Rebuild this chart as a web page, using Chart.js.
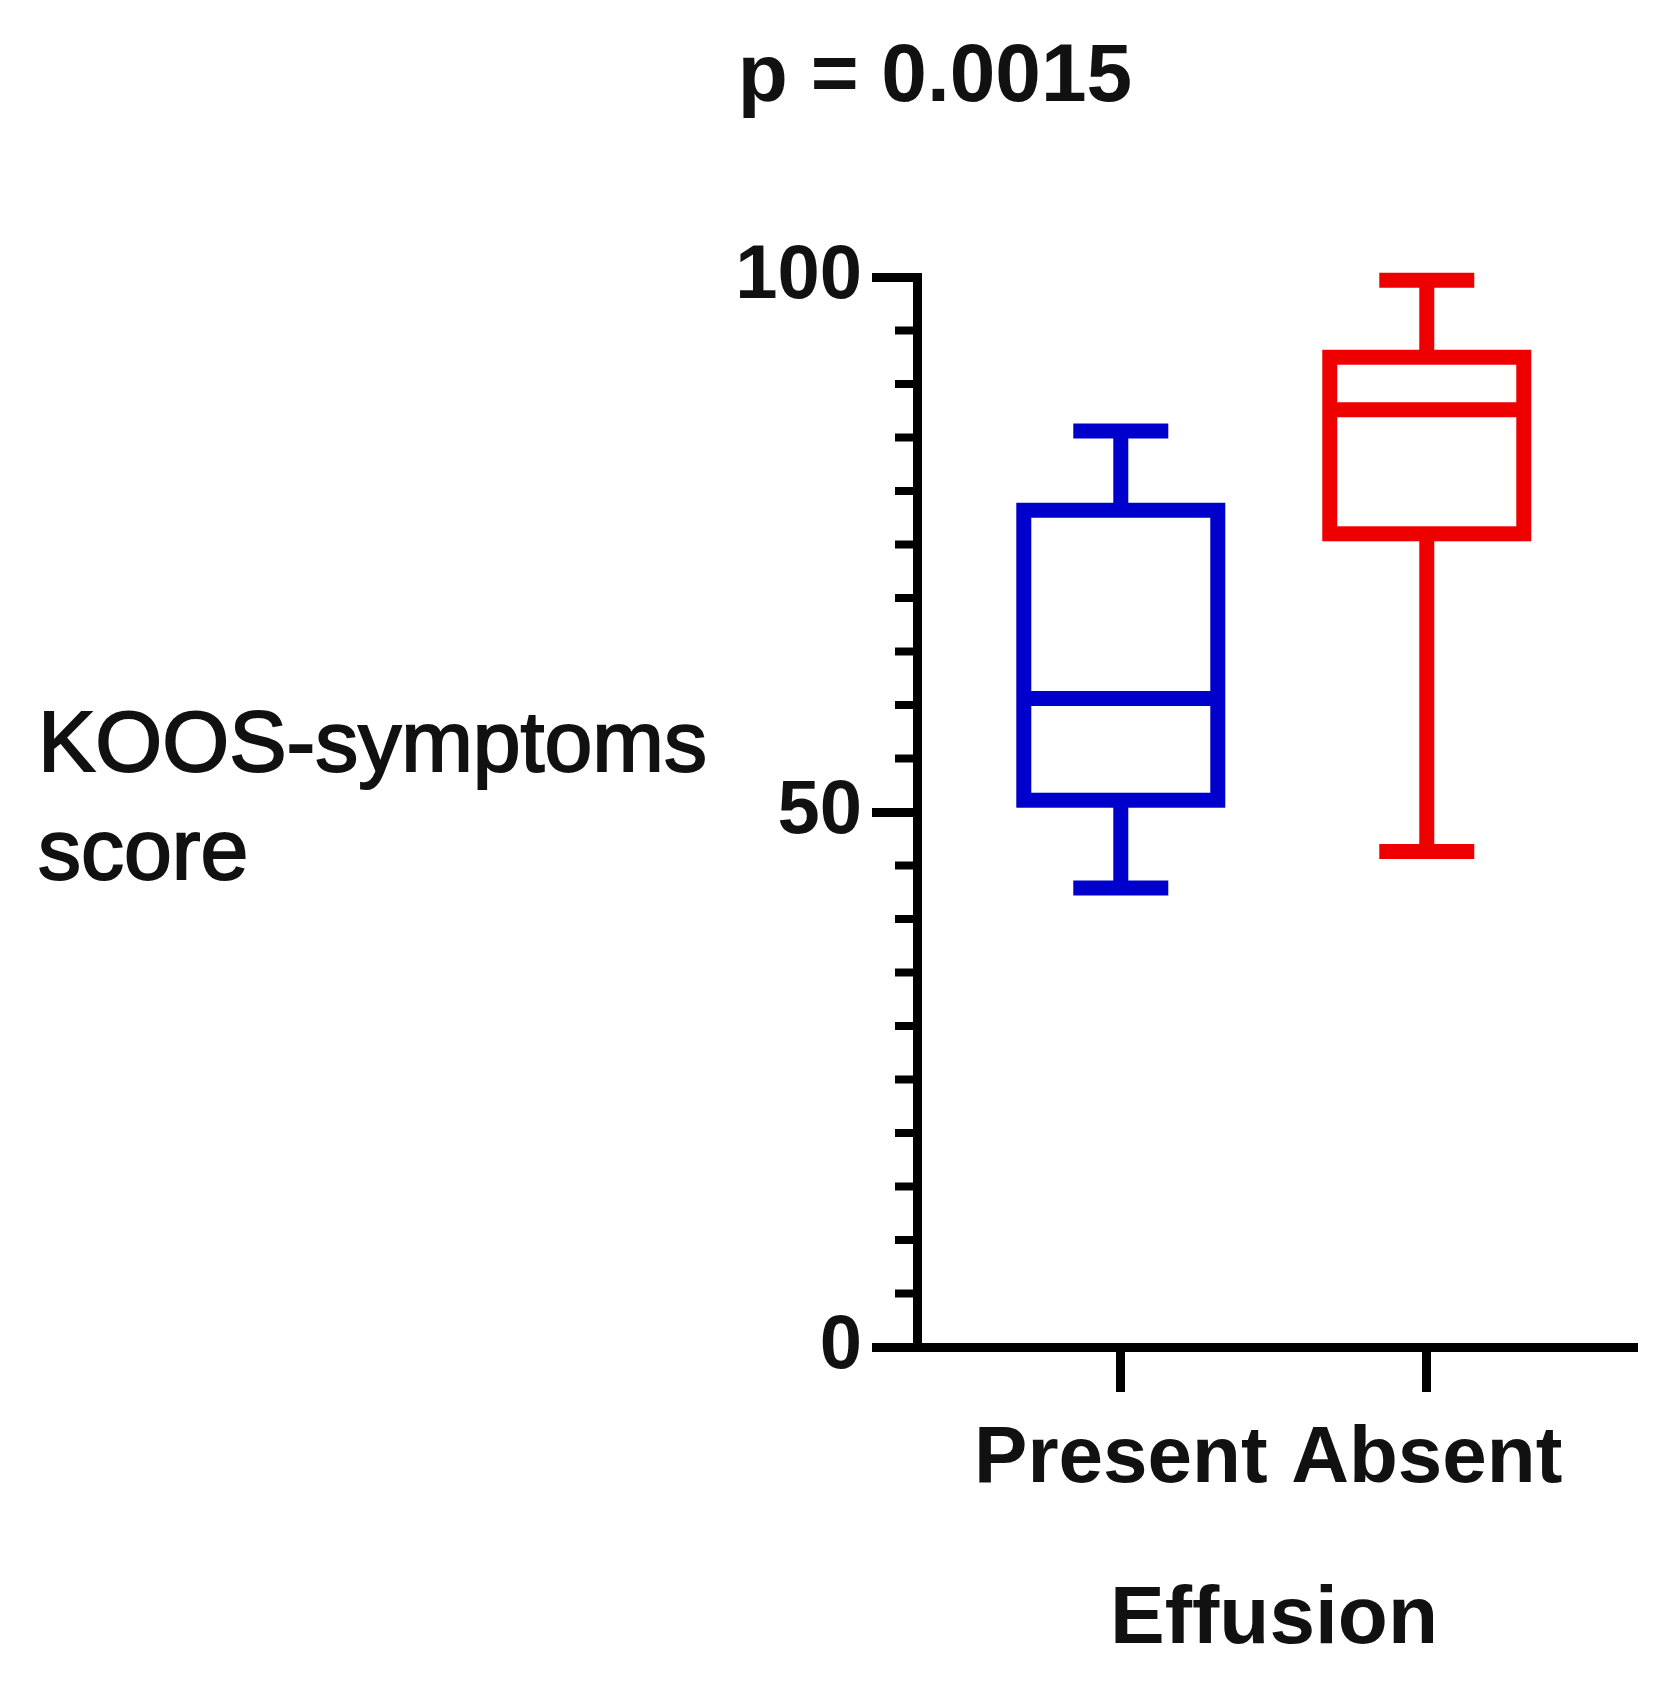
<!DOCTYPE html>
<html><head><meta charset="utf-8">
<script src="https://cdn.jsdelivr.net/npm/chart.js@4"></script>
<style>html,body{margin:0;padding:0;background:#fff}#c{display:block}</style>
</head><body>
<div style="width:1667px;height:1685px"><canvas id="c"></canvas></div>
<script>
const categories = ["Present", "Absent"];
const colors = ["#0000cc", "#ee0000"];
const whiskerMin = [42.9, 46.3];
const q1 = [51.1, 76.0];
const median = [60.6, 87.6];
const q3 = [78.2, 92.5];
const whiskerMax = [85.6, 99.7];
const yTickLabels = [0, 50, 100];

const FONT = "'Liberation Sans', Arial, sans-serif";

const boxPlugin = {
  id: 'boxes',
  afterDatasetsDraw(chart) {
    const ctx = chart.ctx, xs = chart.scales.x, ys = chart.scales.y;
    ctx.save();
    ctx.strokeStyle = '#000'; ctx.lineWidth = 8;
    const x0 = chart.chartArea.left;
    for (let v = 0; v <= 100; v += 5) {
      if (yTickLabels.includes(v)) continue;
      const y = ys.getPixelForValue(v);
      ctx.beginPath(); ctx.moveTo(x0 - 22, y); ctx.lineTo(x0, y); ctx.stroke();
    }
    categories.forEach((c, i) => {
      const cx = xs.getPixelForValue(i + 1);
      const bw = 194, cw = 95;
      const p = v => ys.getPixelForValue(v);
      ctx.strokeStyle = colors[i]; ctx.lineWidth = 15; ctx.lineCap = 'butt';
      ctx.beginPath();
      ctx.moveTo(cx, p(q3[i])); ctx.lineTo(cx, p(whiskerMax[i]));
      ctx.moveTo(cx - cw/2, p(whiskerMax[i])); ctx.lineTo(cx + cw/2, p(whiskerMax[i]));
      ctx.moveTo(cx, p(q1[i])); ctx.lineTo(cx, p(whiskerMin[i]));
      ctx.moveTo(cx - cw/2, p(whiskerMin[i])); ctx.lineTo(cx + cw/2, p(whiskerMin[i]));
      ctx.moveTo(cx - bw/2, p(median[i])); ctx.lineTo(cx + bw/2, p(median[i]));
      ctx.stroke();
      ctx.strokeRect(cx - bw/2, p(q3[i]), bw, p(q1[i]) - p(q3[i]));
    });
    ctx.fillStyle = '#111'; ctx.textBaseline = 'middle';
    ctx.font = 'bold 82px ' + FONT; ctx.textAlign = 'center';
    ctx.fillText('p = 0.0015', 935, 78);
    ctx.fillText('Effusion', 1274, 1620);
    ctx.font = '86px ' + FONT; ctx.textAlign = 'left';
    ctx.lineWidth = 2; ctx.strokeStyle = '#111';
    ctx.fillText('KOOS-symptoms', 38, 747); ctx.strokeText('KOOS-symptoms', 38, 747);
    ctx.fillText('score', 38, 855); ctx.strokeText('score', 38, 855);
    ctx.restore();
  }
};

new Chart(document.getElementById('c'), {
  type: 'scatter',
  data: { datasets: [{ data: categories.map((c, i) => ({ x: i + 1, y: median[i] })), pointRadius: 0 }] },
  options: {
    responsive: true, maintainAspectRatio: false, animation: false,
    layout: { padding: { top: 277, right: 30, left: 0, bottom: 0 } },
    plugins: { legend: { display: false }, tooltip: { enabled: false } },
    scales: {
      x: {
        type: 'linear', min: 0.334, max: 2.687,
        afterBuildTicks: s => { s.ticks = categories.map((c, i) => ({ value: i + 1 })); },
        afterFit: s => { s.height = 338; },
        ticks: { callback: v => categories[v - 1] || '', color: '#111', font: { family: FONT, size: 80, weight: 'bold' }, padding: 20, maxRotation: 0, autoSkip: false },
        grid: { drawOnChartArea: false, tickLength: 45, tickWidth: 9, tickColor: '#000' },
        border: { color: '#000', width: 9 }
      },
      y: {
        min: 0, max: 100,
        afterBuildTicks: s => { s.ticks = yTickLabels.map(v => ({ value: v })); },
        afterFit: s => { s.width = 917; },
        ticks: { color: '#111', font: { family: FONT, size: 76, weight: 'bold' }, padding: 10 },
        grid: { drawOnChartArea: false, tickLength: 45, tickWidth: 9, tickColor: '#000' },
        border: { color: '#000', width: 9 }
      }
    }
  },
  plugins: [boxPlugin]
});
</script>
</body></html>
